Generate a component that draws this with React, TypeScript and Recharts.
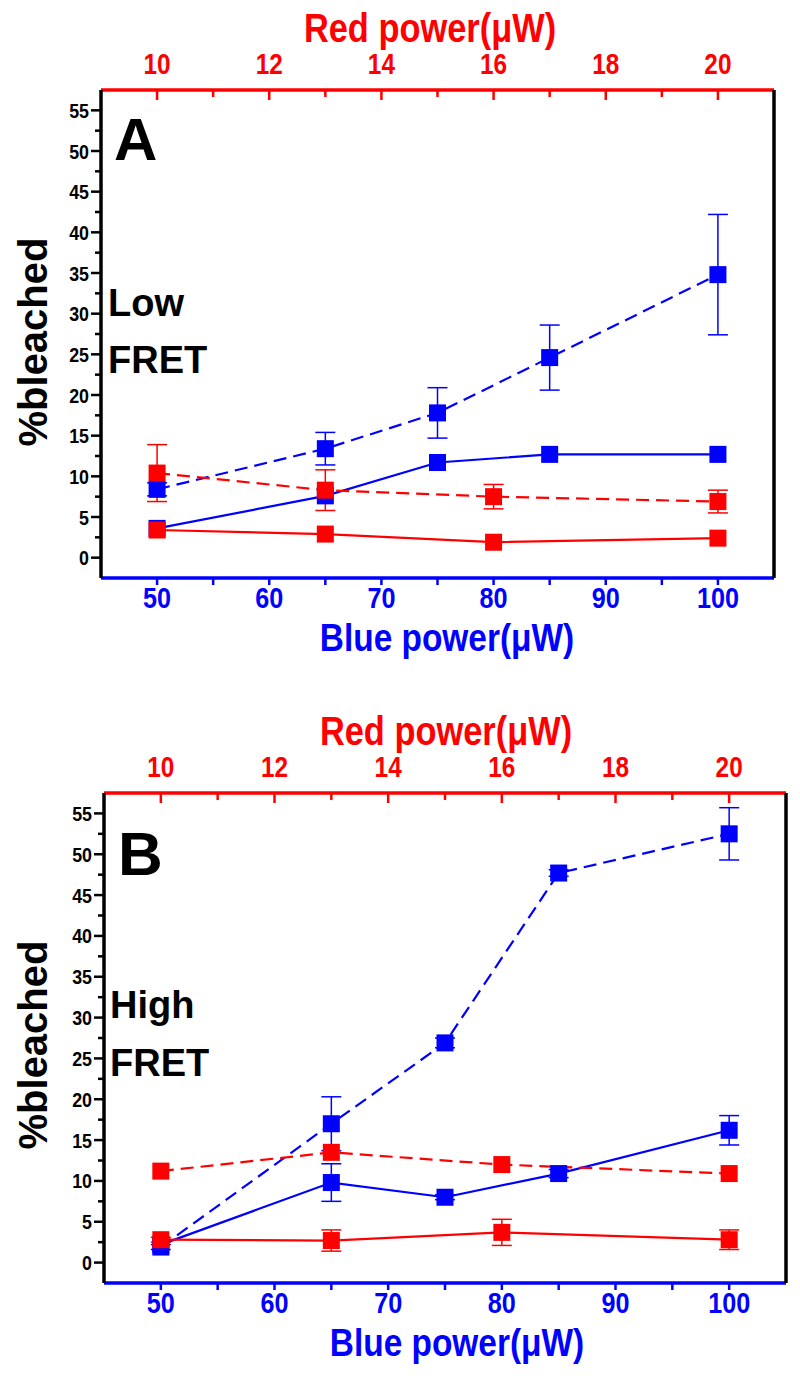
import React from 'react';
import { LineChart, Line, XAxis, YAxis, ErrorBar } from 'recharts';

// ---------- data ----------
const blueX = [50, 65, 75, 85, 100];
const redX = [10, 13, 16, 20];

// Panel A (Low FRET)
const blueDashedA = [8.4, 13.4, 17.8, 24.6, 34.8];
const blueDashedErrA = [0.8, 2.0, 3.1, 4.0, 7.4];
const blueSolidA = [3.6, 7.6, 11.7, 12.7, 12.7];
const blueSolidErrA = [0, 0, 0, 0, 0];
const redDashedA = [10.4, 8.3, 7.5, 6.9];
const redDashedErrA = [3.5, 2.5, 1.5, 1.4];
const redSolidA = [3.4, 2.9, 1.9, 2.4];
const redSolidErrA = [0, 0, 0, 0];

// Panel B (High FRET)
const blueDashedB = [1.9, 17.0, 26.9, 47.7, 52.5];
const blueDashedErrB = [0.3, 3.3, 0.6, 0.4, 3.2];
const blueSolidB = [2.2, 9.8, 8.0, 10.9, 16.2];
const blueSolidErrB = [0, 2.3, 0.3, 0.5, 1.8];
const redDashedB = [11.2, 13.5, 12.0, 10.9];
const redDashedErrB = [0, 0, 0, 0];
const redSolidB = [2.8, 2.7, 3.7, 2.8];
const redSolidErrB = [0.3, 1.3, 1.6, 1.2];

// ticks
const yTicks = [0, 2.5, 5, 7.5, 10, 12.5, 15, 17.5, 20, 22.5, 25, 27.5, 30, 32.5, 35, 37.5, 40, 42.5, 45, 47.5, 50, 52.5, 55];
const blueTicks = [50, 55, 60, 65, 70, 75, 80, 85, 90, 95, 100];
const redTicks = [10, 11, 12, 13, 14, 15, 16, 17, 18, 19, 20];
const yDomain = [-2.5, 57.5];
const blueDomain = [45, 105];
const redDomain = [9, 21];

const BLUE = '#0000ff';
const RED = '#ff0000';
const SANS = "'Liberation Sans', Arial, sans-serif";

const mk = (xs: number[], ys: number[], es: number[]) =>
  xs.map((x, i) => ({ x, y: ys[i], err: es[i] }));

// condensed bold text (horizontal squeeze of Liberation Sans Bold)
const NText = ({ x, y, sx = 0.84, children, ...rest }: any) => (
  <text
    transform={`translate(${x},${y}) scale(${sx},1)`}
    x={0}
    y={0}
    fontFamily={SANS}
    fontWeight="bold"
    {...rest}
  >
    {children}
  </text>
);

const YTick = (props: any) => {
  const { x, y, payload } = props;
  const v = payload.value;
  const major = Math.abs(v % 5) < 1e-6;
  return (
    <g>
      <line x1={x} x2={x - (major ? 10 : 6)} y1={y} y2={y} stroke="#000" strokeWidth={2.5} />
      {major && (
        <NText x={x - 12} y={y + 7.5} sx={0.85} textAnchor="end" fontSize={21} fill="#000">
          {v}
        </NText>
      )}
    </g>
  );
};

const TopTick = (props: any) => {
  const { x, y, payload } = props;
  const v = payload.value;
  const major = v % 2 === 0;
  return (
    <g>
      <line x1={x} x2={x} y1={y} y2={y + (major ? 10 : 7)} stroke={RED} strokeWidth={2.5} />
      {major && (
        <NText x={x} y={y - 16} textAnchor="middle" fontSize={29} fill={RED}>
          {v}
        </NText>
      )}
    </g>
  );
};

const BottomTick = (props: any) => {
  const { x, y, payload } = props;
  const v = payload.value;
  const major = v % 10 === 0;
  return (
    <g>
      <line x1={x} x2={x} y1={y} y2={y + 7} stroke={BLUE} strokeWidth={2.5} />
      {major && (
        <NText x={x} y={y + 30} textAnchor="middle" fontSize={30} fill={BLUE}>
          {v}
        </NText>
      )}
    </g>
  );
};

const squareDot = (color: string, id: string) => (p: any) => (
  <rect key={`${id}-${p.index}`} x={p.cx - 8.5} y={p.cy - 8.5} width={17} height={17} fill={color} />
);

type PanelProps = {
  top: number;
  height: number;
  plot: { left: number; right: number; top: number; bottom: number };
  blueDashed: any[];
  blueSolid: any[];
  redDashed: any[];
  redSolid: any[];
  id: string;
};

function Panel({ top, height, plot, blueDashed, blueSolid, redDashed, redSolid, id }: PanelProps) {
  const W = 800;
  const topAxisH = 30;
  const botAxisH = 30;
  const leftAxisW = 60;
  const rightAxisW = 2;
  const margin = {
    top: plot.top - top - topAxisH,
    bottom: top + height - plot.bottom - botAxisH,
    left: plot.left - leftAxisW,
    right: W - plot.right - rightAxisW,
  };
  return (
    <div style={{ position: 'absolute', left: 0, top }}>
      <LineChart width={W} height={height} margin={margin}>
        <XAxis
          xAxisId="blue"
          dataKey="x"
          type="number"
          orientation="bottom"
          domain={blueDomain}
          ticks={blueTicks}
          interval={0}
          height={botAxisH}
          tickSize={0}
          tickMargin={0}
          tickLine={false}
          tick={<BottomTick />}
          axisLine={{ stroke: BLUE, strokeWidth: 3.5 }}
          allowDataOverflow
        />
        <XAxis
          xAxisId="red"
          dataKey="x"
          type="number"
          orientation="top"
          domain={redDomain}
          ticks={redTicks}
          interval={0}
          height={topAxisH}
          tickSize={0}
          tickMargin={0}
          tickLine={false}
          tick={<TopTick />}
          axisLine={{ stroke: RED, strokeWidth: 3.5 }}
          allowDataOverflow
        />
        <YAxis
          yAxisId="left"
          type="number"
          domain={yDomain}
          ticks={yTicks}
          interval={0}
          width={leftAxisW}
          tickSize={0}
          tickMargin={0}
          tickLine={false}
          tick={<YTick />}
          axisLine={{ stroke: '#000', strokeWidth: 3.5 }}
          allowDataOverflow
        />
        <YAxis
          yAxisId="right"
          orientation="right"
          type="number"
          domain={yDomain}
          width={rightAxisW}
          tick={false}
          tickLine={false}
          axisLine={{ stroke: '#000', strokeWidth: 3.5 }}
          allowDataOverflow
        />
        <Line
          data={blueDashed}
          xAxisId="blue"
          yAxisId="left"
          dataKey="y"
          stroke={BLUE}
          strokeWidth={2.2}
          strokeDasharray="13 7"
          dot={squareDot(BLUE, id + 'bd')}
          activeDot={false}
          isAnimationActive={false}
        >
          <ErrorBar dataKey="err" direction="y" width={10} stroke={BLUE} strokeWidth={1.5} />
        </Line>
        <Line
          data={blueSolid}
          xAxisId="blue"
          yAxisId="left"
          dataKey="y"
          stroke={BLUE}
          strokeWidth={2.2}
          dot={squareDot(BLUE, id + 'bs')}
          activeDot={false}
          isAnimationActive={false}
        >
          <ErrorBar dataKey="err" direction="y" width={10} stroke={BLUE} strokeWidth={1.5} />
        </Line>
        <Line
          data={redDashed}
          xAxisId="red"
          yAxisId="left"
          dataKey="y"
          stroke={RED}
          strokeWidth={2.2}
          strokeDasharray="13 7"
          dot={squareDot(RED, id + 'rd')}
          activeDot={false}
          isAnimationActive={false}
        >
          <ErrorBar dataKey="err" direction="y" width={10} stroke={RED} strokeWidth={1.5} />
        </Line>
        <Line
          data={redSolid}
          xAxisId="red"
          yAxisId="left"
          dataKey="y"
          stroke={RED}
          strokeWidth={2.2}
          dot={squareDot(RED, id + 'rs')}
          activeDot={false}
          isAnimationActive={false}
        >
          <ErrorBar dataKey="err" direction="y" width={10} stroke={RED} strokeWidth={1.5} />
        </Line>
      </LineChart>
    </div>
  );
}

export default function App() {
  return (
    <div style={{ position: 'absolute', left: 0, top: 0, width: 800, height: 1376, background: '#fff' }}>
      <Panel
        id="A"
        top={0}
        height={690}
        plot={{ left: 101, right: 774, top: 90, bottom: 578 }}
        blueDashed={mk(blueX, blueDashedA, blueDashedErrA)}
        blueSolid={mk(blueX, blueSolidA, blueSolidErrA)}
        redDashed={mk(redX, redDashedA, redDashedErrA)}
        redSolid={mk(redX, redSolidA, redSolidErrA)}
      />
      <Panel
        id="B"
        top={690}
        height={686}
        plot={{ left: 104, right: 786, top: 793, bottom: 1283 }}
        blueDashed={mk(blueX, blueDashedB, blueDashedErrB)}
        blueSolid={mk(blueX, blueSolidB, blueSolidErrB)}
        redDashed={mk(redX, redDashedB, redDashedErrB)}
        redSolid={mk(redX, redSolidB, redSolidErrB)}
      />
      <svg width={800} height={1376} style={{ position: 'absolute', left: 0, top: 0, pointerEvents: 'none' }}>
        {/* Panel A texts */}
        <NText x={430} y={42} sx={0.86} textAnchor="middle" fontSize={40} fill={RED}>Red power(μW)</NText>
        <NText x={447} y={651} sx={0.88} textAnchor="middle" fontSize={38} fill={BLUE}>Blue power(μW)</NText>
        <text x={114} y={160} fontFamily={SANS} fontWeight="bold" fontSize={60} fill="#000">A</text>
        <text x={108} y={316} fontFamily={SANS} fontWeight="bold" fontSize={38} fill="#000">Low</text>
        <text x={108} y={373} fontFamily={SANS} fontWeight="bold" fontSize={38} fill="#000">FRET</text>
        <text x={47} y={342} transform="rotate(-90 47 342)" textAnchor="middle" fontFamily={SANS} fontWeight="bold" fontSize={40} fill="#000">%bleached</text>
        {/* Panel B texts */}
        <NText x={446} y={745} sx={0.86} textAnchor="middle" fontSize={40} fill={RED}>Red power(μW)</NText>
        <NText x={457} y={1356} sx={0.88} textAnchor="middle" fontSize={38} fill={BLUE}>Blue power(μW)</NText>
        <text x={118} y={875} fontFamily={SANS} fontWeight="bold" fontSize={62} fill="#000">B</text>
        <text x={110} y={1018} fontFamily={SANS} fontWeight="bold" fontSize={38} fill="#000">High</text>
        <text x={110} y={1076} fontFamily={SANS} fontWeight="bold" fontSize={38} fill="#000">FRET</text>
        <text x={47} y={1045} transform="rotate(-90 47 1045)" textAnchor="middle" fontFamily={SANS} fontWeight="bold" fontSize={40} fill="#000">%bleached</text>
      </svg>
    </div>
  );
}
